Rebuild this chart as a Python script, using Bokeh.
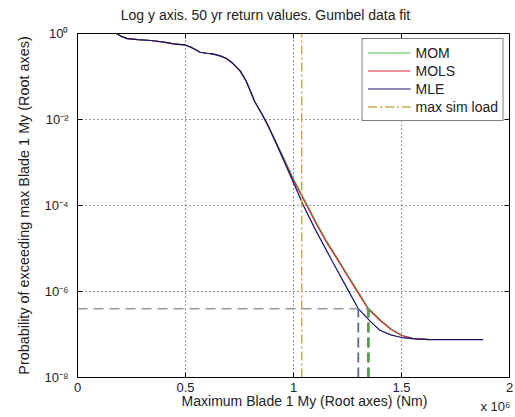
import math
from bokeh.plotting import figure
from bokeh.models import (FixedTicker, CustomJSTickFormatter, Legend, LegendItem, Label, Range1d)
from bokeh.embed import file_html
from bokeh.resources import INLINE

FONT = "Liberation Sans"

# ---- data (x in units of 1e6 Nm) ----
x_shared = [0.18, 0.20, 0.23, 0.28, 0.34, 0.40, 0.445, 0.495, 0.53, 0.568, 0.60, 0.63,
            0.66, 0.69, 0.72, 0.753, 0.78, 0.80, 0.82, 0.846, 0.88]
p_shared = [1.0, 0.871, 0.759, 0.724, 0.687, 0.631, 0.575, 0.546, 0.468, 0.367, 0.347, 0.331,
            0.302, 0.263, 0.200, 0.135, 0.0794, 0.0468, 0.0263, 0.0158, 0.00759]

x_mle_tail = [0.91, 0.95, 1.0, 1.046, 1.10, 1.18, 1.254, 1.300, 1.36, 1.40, 1.45, 1.50,
              1.56, 1.63, 1.75, 1.878]
p_mle_tail = [3.55e-3, 1.26e-3, 3.39e-4, 1.0e-4, 2.82e-5, 5.0e-6, 1.05e-6, 3.98e-7, 1.91e-7,
              1.26e-7, 9.8e-8, 8.5e-8, 7.9e-8, 7.6e-8, 7.6e-8, 7.6e-8]

x_mols_tail = [0.91, 0.95, 1.0, 1.061, 1.10, 1.15, 1.20, 1.25, 1.292, 1.345, 1.40, 1.45,
               1.50, 1.55, 1.63]
p_mols_tail = [3.63e-3, 1.35e-3, 3.8e-4, 1.0e-4, 4.17e-5, 1.48e-5, 5.89e-6, 2.29e-6, 1.05e-6,
               3.98e-7, 2.14e-7, 1.32e-7, 9.5e-8, 8.1e-8, 7.6e-8]

x_mom_tail = [0.912, 0.953, 1.004, 1.065, 1.104, 1.154, 1.204, 1.254, 1.296, 1.349, 1.404,
              1.454, 1.504, 1.554, 1.63]
p_mom_tail = [3.63e-3, 1.35e-3, 3.8e-4, 1.0e-4, 4.17e-5, 1.48e-5, 5.89e-6, 2.29e-6, 1.05e-6,
              3.98e-7, 2.14e-7, 1.32e-7, 9.5e-8, 8.1e-8, 7.6e-8]

methods = ["MOM", "MOLS", "MLE"]
return_x = [1.349, 1.345, 1.300]       # 50 yr return values per method (MOM, MOLS, MLE)
p_return = 3.98e-7                     # exceedance probability for 50 yr
max_sim_load = 1.038

x_ticks = [0, 0.5, 1, 1.5, 2]
x_tick_labels = ["0", "0.5", "1", "1.5", "2"]
y_ticks = [1e-8, 1e-6, 1e-4, 1e-2, 1]
y_tick_labels = ["10\u207b\u2078", "10\u207b\u2076", "10\u207b\u2074", "10\u207b\u00b2", "10\u2070"]
x_range = [0, 2]
y_range = [1e-8, 1]

title_text = "Log y axis. 50 yr return values. Gumbel data fit"
x_label = "Maximum Blade 1 My (Root axes) (Nm)"
y_label = "Probability of exceeding max Blade 1 My (Root axes)"
x_mult = "x 10\u2076"

# ---- figure ----
p = figure(width=515, height=417, x_range=Range1d(*x_range), y_range=Range1d(*y_range),
           y_axis_type="log", output_backend="svg", toolbar_location=None,
           min_border_left=77, min_border_right=6, min_border_top=33, min_border_bottom=40)
p.title.visible = False
p.background_fill_color = "white"
p.border_fill_color = "white"
p.outline_line_color = "black"
p.outline_line_width = 1

# axes
xf = CustomJSTickFormatter(args=dict(vals=x_ticks, labels=x_tick_labels), code="""
let b=0, bd=1e9; for (let i=0;i<vals.length;i++){const d=Math.abs(vals[i]-tick); if(d<bd){bd=d;b=i}}
return labels[b];""")
yf = CustomJSTickFormatter(args=dict(vals=y_ticks, labels=y_tick_labels), code="""
let b=0, bd=1e9; for (let i=0;i<vals.length;i++){const d=Math.abs(Math.log10(vals[i])-Math.log10(tick)); if(d<bd){bd=d;b=i}}
return labels[b];""")

for ax in p.xaxis:
    ax.ticker = FixedTicker(ticks=x_ticks)
    ax.formatter = xf
    ax.major_label_standoff = 5
for ax in p.yaxis:
    ax.ticker = FixedTicker(ticks=y_ticks)
    ax.formatter = yf
    ax.axis_label = y_label
    ax.major_label_standoff = 9
    ax.axis_label_standoff = 9

for ax in list(p.xaxis) + list(p.yaxis):
    ax.major_tick_in = 5
    ax.major_tick_out = 0
    ax.minor_tick_line_color = None
    ax.axis_line_color = "black"
    ax.major_tick_line_color = "black"
    ax.major_label_text_font = FONT
    ax.major_label_text_font_size = "13px"
    ax.major_label_text_color = "#222222"
    ax.axis_label_text_font = FONT
    ax.axis_label_text_font_size = "14.4px"
    ax.axis_label_text_font_style = "normal"
    ax.axis_label_text_color = "#222222"

# grids
p.xgrid.ticker = FixedTicker(ticks=x_ticks[1:-1])
p.ygrid.ticker = FixedTicker(ticks=y_ticks[1:-1])
for g in (p.xgrid, p.ygrid):
    g.grid_line_color = "black"
    g.grid_line_dash = "1 3"
    g.grid_line_alpha = 0.8
    g.grid_line_width = 1

# inward ticks on the top and right edges of the box
p.scatter(x=x_ticks, y=[y_range[1]] * len(x_ticks), marker="dash", size=10,
          angle=math.pi / 2, line_color="black", line_width=1)
p.scatter(x=[x_range[1]] * len(y_ticks), y=y_ticks, marker="dash", size=10,
          line_color="black", line_width=1)

# curves
r_mom = p.line(x_shared + x_mom_tail, p_shared + p_mom_tail, line_color="#4cc24c", line_width=1.2)
r_mols = p.line(x_shared + x_mols_tail, p_shared + p_mols_tail, line_color="#d2283c", line_width=1.2)
r_mle = p.line(x_shared + x_mle_tail, p_shared + p_mle_tail, line_color="#14146e", line_width=1.2)

# max sim load
r_max = p.line([max_sim_load, max_sim_load], y_range, line_color="#c4aa52", line_width=1.5,
               line_dash="9 3 2 3")

# return-value markers
p.segment(x0=[x_range[0]], y0=[p_return], x1=[max(return_x)], y1=[p_return],
          line_color="#9a9a9a", line_width=1.5, line_dash="10 6")
ret_colors = {"MOM": "#4ca04c", "MOLS": "#c05050", "MLE": "#5a6890"}
for i in (1, 0, 2):
    xr = return_x[i]
    p.segment(x0=[xr], y0=[y_range[0]], x1=[xr], y1=[p_return],
              line_color=ret_colors[methods[i]], line_width=1.8, line_dash="10 5")

legend = Legend(items=[LegendItem(label=methods[0], renderers=[r_mom]),
                       LegendItem(label=methods[1], renderers=[r_mols]),
                       LegendItem(label=methods[2], renderers=[r_mle]),
                       LegendItem(label="max sim load", renderers=[r_max])],
                location="top_right", margin=5, padding=5, spacing=1,
                glyph_width=43, glyph_height=17, label_height=17, label_standoff=5,
                border_line_color="black", border_line_width=1,
                background_fill_color="white", background_fill_alpha=1,
                label_text_font=FONT, label_text_font_size="14px", label_text_color="#222222")
p.add_layout(legend)

# texts in side panels (positions relative to their panel, in pixels)
p.add_layout(Label(x=188, y=19, x_units="screen", y_units="screen", text=title_text,
                   text_align="center", text_baseline="middle", text_font=FONT,
                   text_font_size="14px", text_color="#222222"), "above")
p.add_layout(Label(x=403, y=-389, x_units="screen", y_units="screen", text=x_mult,
                   text_align="left", text_baseline="middle", text_font=FONT,
                   text_font_size="13px", text_color="#222222"), "above")
p.add_layout(Label(x=227, y=10, x_units="screen", y_units="screen", text=x_label,
                   text_align="center", text_baseline="middle", text_font=FONT,
                   text_font_size="14px", text_color="#222222"), "below")

open("out.html", "w").write(file_html(p, INLINE))
